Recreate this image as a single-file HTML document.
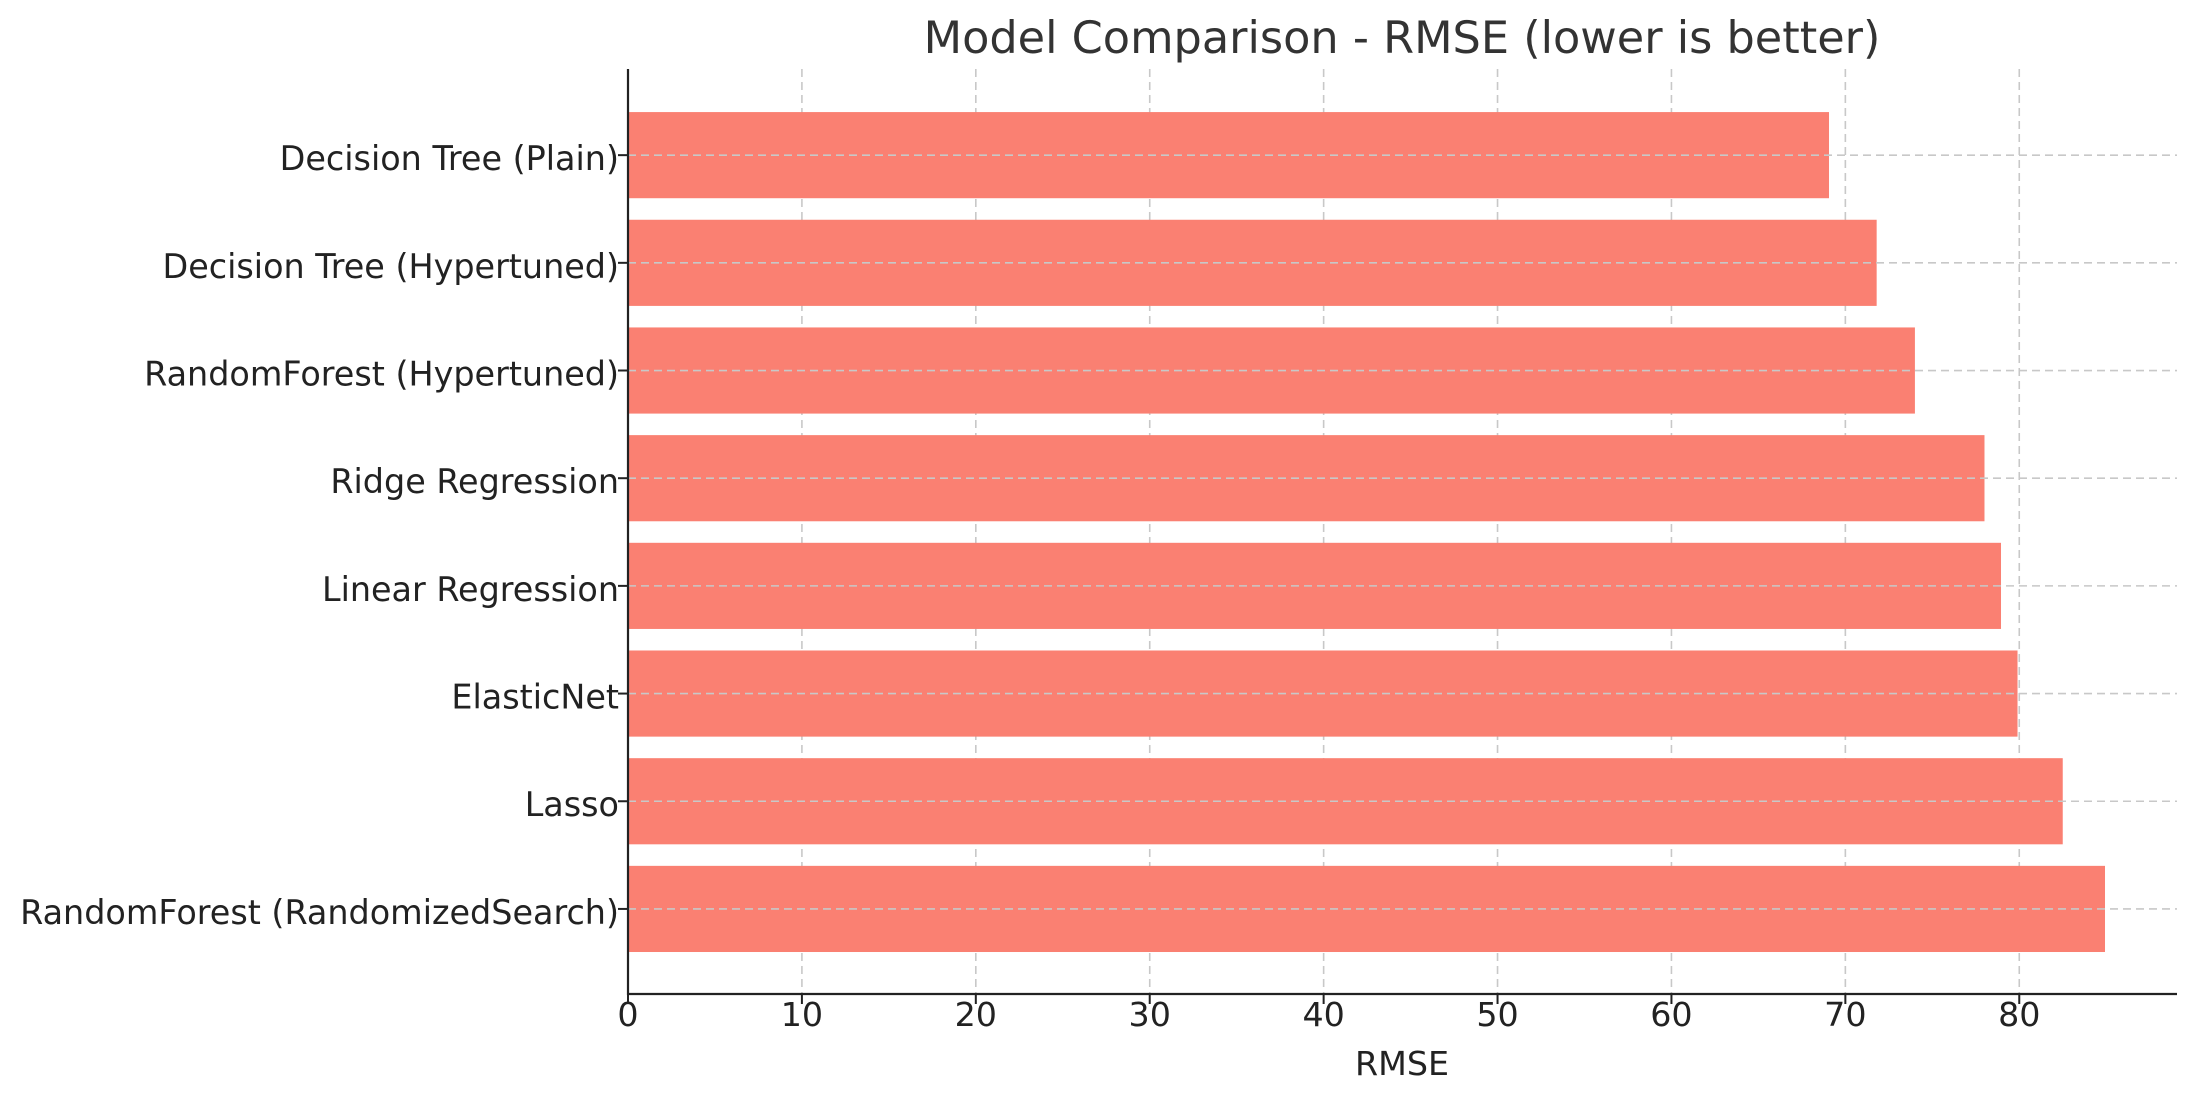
<!DOCTYPE html>
<html><head><meta charset="utf-8"><style>
html,body{margin:0;padding:0;background:#fff;}
svg{display:block;font-family:"DejaVu Sans","Liberation Sans",sans-serif;}
</style></head><body>
<svg id="chart" width="2198" height="1101" xmlns="http://www.w3.org/2000/svg">
<text x="1402" y="53" font-size="44.6" fill="#333" text-anchor="middle">Model Comparison - RMSE (lower is better)</text>
<g id="grid"></g><g id="bars"></g><g id="axes"></g>
<text x="1402" y="1075" font-size="33.3" fill="#222" text-anchor="middle">RMSE</text>
</svg>
<script>
const categories = ["RandomForest (RandomizedSearch)","Lasso","ElasticNet","Linear Regression","Ridge Regression","RandomForest (Hypertuned)","Decision Tree (Hypertuned)","Decision Tree (Plain)"];
const rmseValues = [84.93, 82.5, 79.9, 78.95, 78.0, 74.0, 71.8, 69.06];
const xTicks = [0,10,20,30,40,50,60,70,80];
const NS="http://www.w3.org/2000/svg";
const x0=628, xmax=2177, xMaxVal=89.07, yTop=69, yBot=994;
function xs(v){return x0+(v/xMaxVal)*(xmax-x0);}
const iLo=-0.79, iHi=7.8;
function ys(i){return yBot-(i-iLo)/(iHi-iLo)*(yBot-yTop);}
function mk(tag,attrs,parent){const e=document.createElementNS(NS,tag);for(const k in attrs)e.setAttribute(k,attrs[k]);parent.appendChild(e);return e;}
const grid=document.getElementById('grid'),bars=document.getElementById('bars'),axes=document.getElementById('axes');
xTicks.forEach(t=>{
  const g=mk('line',{x1:xs(t),x2:xs(t),y1:yTop,y2:yBot,stroke:'#c8c8c8','stroke-width':1.6,'stroke-dasharray':'8,5'},grid);
  
  
  const tk=mk('line',{x1:xs(t),x2:xs(t),y1:yBot,y2:yBot+10,stroke:'#222','stroke-width':2},axes);
  
  
  const tl=mk('text',{x:xs(t),y:1026,'font-size':33.3,fill:'#222','text-anchor':'middle'},axes);
  tl.textContent=t;
  
  
});
const step=ys(0)-ys(1), bh=step*0.8;
categories.forEach((c,i)=>{
  const y=ys(i);
  const r=mk('rect',{x:x0,y:y-bh/2,width:xs(rmseValues[i])-x0,height:bh,fill:'#FA8072'},bars);
  
  
  const gl=mk('line',{x1:x0,x2:xmax,y1:y,y2:y,stroke:'#c8c8c8','stroke-width':1.6,'stroke-dasharray':'8,5'},bars);
  
  
  const tk=mk('line',{x1:x0-10,x2:x0,y1:y,y2:y,stroke:'#222','stroke-width':2},axes);
  
  
  const tl=mk('text',{x:619,y:y+15,'font-size':33.4,fill:'#222','text-anchor':'end'},axes);
  tl.textContent=c;
  
  
});
const ya=mk('line',{x1:x0,x2:x0,y1:yTop,y2:yBot+1,stroke:'#222','stroke-width':2.2},axes);


const xa=mk('line',{x1:x0-1,x2:xmax,y1:yBot,y2:yBot,stroke:'#222','stroke-width':2.2},axes);


</script>
</body></html>
